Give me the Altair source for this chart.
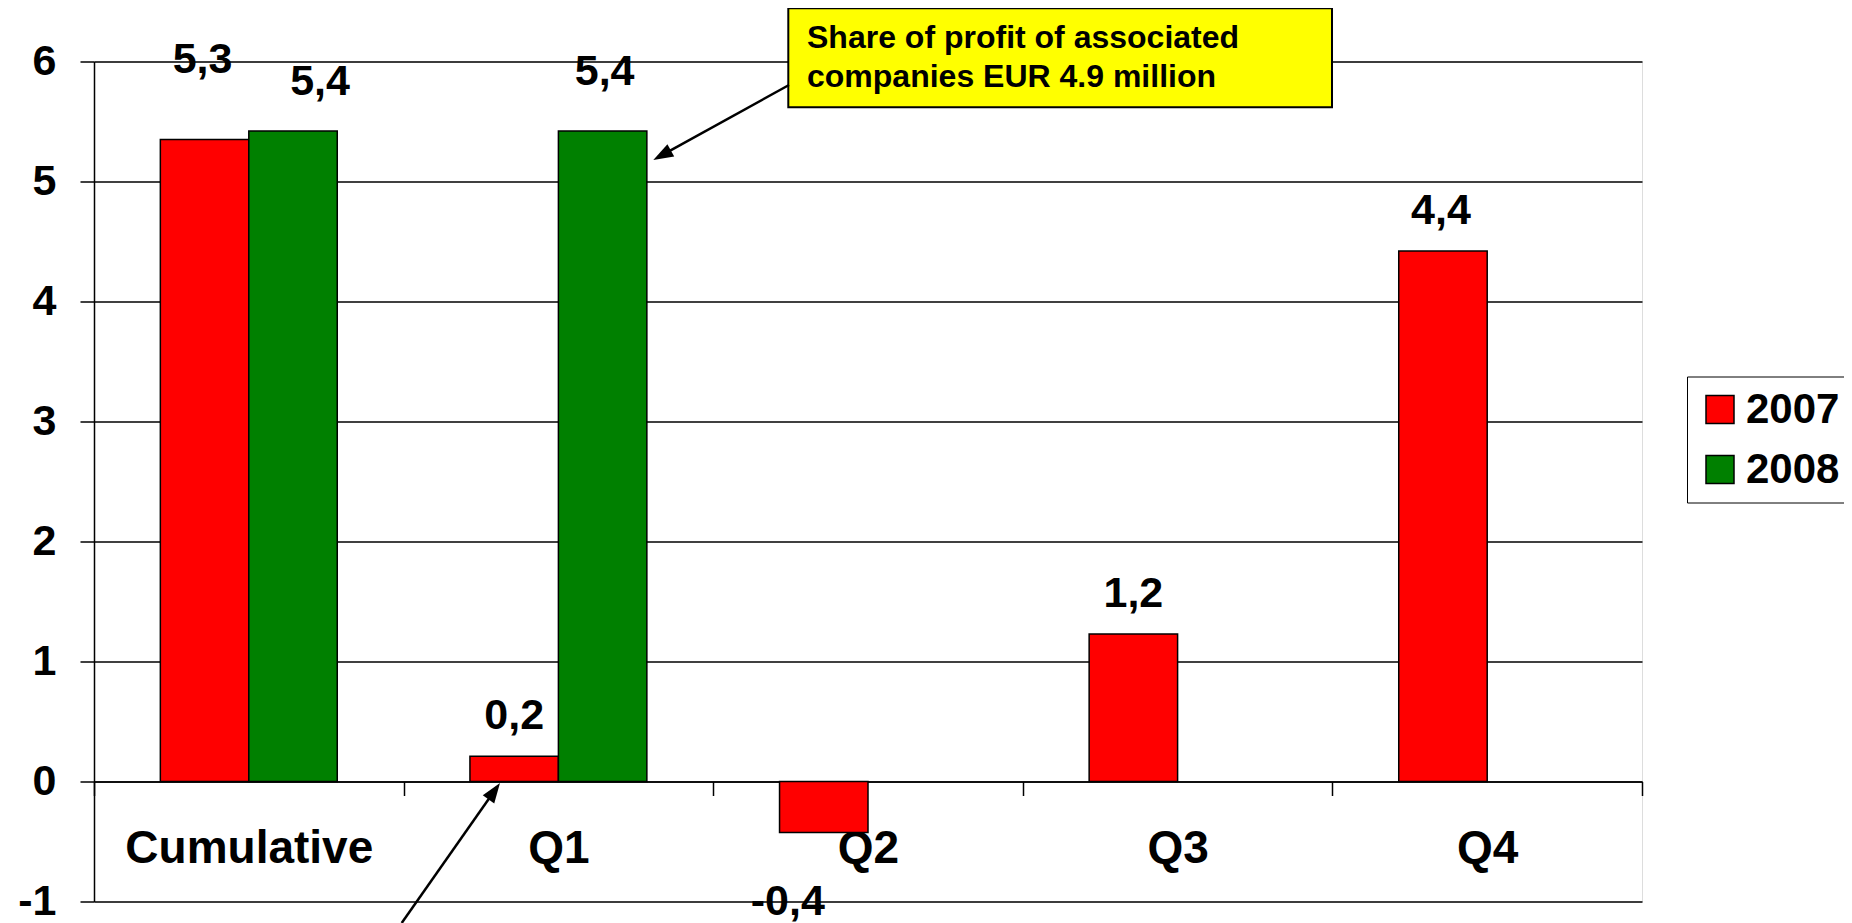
import altair as alt
import pandas as pd
import numpy as np

# ---------------- data ----------------
categories = ["Cumulative", "Q1", "Q2", "Q3", "Q4"]
series = ["2007", "2008"]
values_2007 = [5.35, 0.21, -0.425, 1.23, 4.42]
values_2008 = [5.42, 5.42, None, None, None]
labels_2007 = ["5,3", "0,2", "-0,4", "1,2", "4,4"]
labels_2008 = ["5,4", "5,4", None, None, None]
y_ticks = [-1, 0, 1, 2, 3, 4, 5, 6]
note_lines = ["Share of profit of associated", "companies EUR 4.9 million"]
colors = ["#FF0000", "#008000"]

# ---------------- style ----------------
FONT = "Liberation Sans"
W, H = 1548, 840
# label offsets (dx, dy) in pixels, styling only
offsets_2007 = [(-2, -67), (0, -27), (-36, 82), (0, -27), (-2, -27)]
offsets_2008 = [(27, -36), (2, -46), None, None, None]

rows = []
for s, vals, labs, offs in [("2007", values_2007, labels_2007, offsets_2007),
                            ("2008", values_2008, labels_2008, offsets_2008)]:
    for c, v, l, o in zip(categories, vals, labs, offs):
        if v is not None:
            rows.append({"category": c, "series": s, "value": v, "label": l, "off": o})
df = pd.DataFrame(rows)

x_enc = alt.X(
    "category:N",
    sort=categories,
    scale=alt.Scale(domain=categories, paddingInner=0, paddingOuter=0),
    axis=alt.Axis(
        title=None, orient="bottom", offset=-120, labelAngle=0,
        labelFontSize=46, labelFont=FONT, labelFontWeight="bold", labelColor="black",
        labelPadding=67, labelBaseline="alphabetic", labelLimit=0, labelOverlap=False,
        tickSize=14, tickBand="extent", tickColor="black", tickWidth=1.5,
        domainColor="black", domainWidth=1.5, grid=False,
    ),
)
xo_enc = alt.XOffset("series:N", scale=alt.Scale(domain=series, paddingInner=0, paddingOuter=0.75))
y_enc = alt.Y(
    "value:Q",
    scale=alt.Scale(domain=[-1, 6], nice=False),
    axis=alt.Axis(
        title=None, values=y_ticks, labelExpr="'' + datum.value",
        labelFontSize=43, labelFont=FONT, labelFontWeight="bold", labelColor="black",
        labelPadding=24, tickSize=14, tickColor="black", tickWidth=1.5,
        domainColor="black", domainWidth=1.5,
        grid=True, gridColor="black", gridWidth=1.5, gridOpacity=1,
    ),
)

bars = alt.Chart(df[["category", "series", "value"]]).mark_bar(
    stroke="black", strokeWidth=1.5
).encode(
    x=x_enc,
    xOffset=xo_enc,
    y=y_enc,
    color=alt.Color(
        "series:N",
        scale=alt.Scale(domain=series, range=colors),
        legend=alt.Legend(
            title=None, orient="none", legendX=1593, legendY=315,
            symbolType="square", symbolSize=784, symbolStrokeColor="black",
            symbolStrokeWidth=1.5, symbolOpacity=1,
            labelFontSize=42, labelFont=FONT, labelFontWeight="bold", labelColor="black",
            labelOffset=5, rowPadding=18, padding=12,
            strokeColor="black", fillColor="white",
        ),
    ),
)

label_layers = []
for _, r in df.iterrows():
    dx, dy = r["off"]
    one = pd.DataFrame([{"category": r["category"], "series": r["series"],
                         "value": r["value"], "label": r["label"]}])
    label_layers.append(
        alt.Chart(one).mark_text(
            dx=dx, dy=dy, align="center", baseline="alphabetic",
            fontSize=43, font=FONT, fontWeight="bold", color="black",
        ).encode(x=x_enc, xOffset=xo_enc, y=y_enc, text="label:N")
    )

base = alt.Chart(pd.DataFrame({"k": [0]}))

# annotation box (plot coordinates in pixels)
box = base.mark_rect(fill="#FFFF00", stroke="black", strokeWidth=2).encode(
    x=alt.value(694.3), x2=alt.value(1238), y=alt.value(-53.2), y2=alt.value(45.8)
)
note1 = base.mark_text(align="left", baseline="alphabetic", fontSize=32, font=FONT,
                       fontWeight="bold", color="black").encode(
    x=alt.value(713), y=alt.value(-13.2), text=alt.value(note_lines[0]))
note2 = base.mark_text(align="left", baseline="alphabetic", fontSize=32, font=FONT,
                       fontWeight="bold", color="black").encode(
    x=alt.value(713), y=alt.value(25.8), text=alt.value(note_lines[1]))

HEAD = "M0,-1L0.7,1L-0.7,1Z"
HEAD_SIZE = 400  # scale factor 10 -> head length 20


def arrow(x0, y0, x1, y1):
    d = np.array([x1 - x0, y1 - y0], dtype=float)
    u = d / np.linalg.norm(d)
    ang = float(np.degrees(np.arctan2(u[0], -u[1]))) % 360
    cx, cy = x1 - 10 * u[0], y1 - 10 * u[1]
    line = base.mark_rule(color="black", strokeWidth=2.5).encode(
        x=alt.value(x0), y=alt.value(y0),
        x2=alt.value(float(x1 - 12 * u[0])), y2=alt.value(float(y1 - 12 * u[1])))
    head = base.mark_point(shape=HEAD, size=HEAD_SIZE, angle=ang, filled=True,
                           color="black", opacity=1, strokeWidth=0).encode(
        x=alt.value(float(cx)), y=alt.value(float(cy)))
    return [line, head]


arrows = arrow(695, 23.5, 559.3, 98.5) + arrow(307.7, 861.5, 406, 721.5)

chart = alt.layer(bars, *label_layers, box, note1, note2, *arrows).properties(
    width=W, height=H,
    autosize=alt.AutoSizeParams(type="none"),
    padding={"left": 86, "top": 53.5, "right": 202, "bottom": 21.5},
).configure_view(stroke="black", strokeWidth=1.5).configure(font=FONT, background="white")

chart.save("out.html", embed_options={"renderer": "svg", "actions": False})
